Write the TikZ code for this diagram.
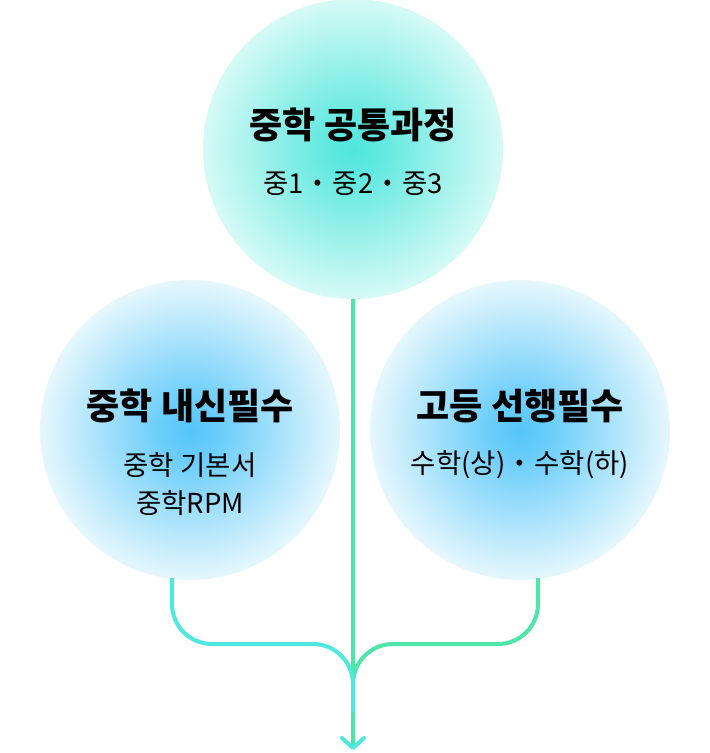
\documentclass[tikz,border=0pt]{standalone}
\usepackage{fontspec}
\setmainfont{Noto Sans CJK KR}
\usetikzlibrary{arrows,calc}
\usepackage{tkz-euclide}
\definecolor{LineGrn}{HTML}{4EE6A8}
\definecolor{LineCyn}{HTML}{4EE8E0}
\definecolor{TopIn}{HTML}{4FE6DC}
\definecolor{TopOut}{HTML}{D6FAF6}
\definecolor{SideIn}{HTML}{55C6FA}
\definecolor{SideOut}{HTML}{E6F7FD}
\pgfdeclareradialshading{TopGlow}{\pgfpointorigin}{color(0bp)=(TopIn); color(5bp)=(TopIn!85!TopOut); color(25bp)=(TopOut); color(50bp)=(TopOut)}
\pgfdeclareradialshading{SideGlow}{\pgfpointorigin}{color(0bp)=(SideIn); color(5bp)=(SideIn!85!SideOut); color(25bp)=(SideOut); color(50bp)=(SideOut)}

\begin{document}
\begin{tikzpicture}[x=1pt,y=-1pt,
  bubble/.style={circle,minimum size=300pt,inner sep=0pt},
  headtxt/.style={inner sep=0pt,font=\fontsize{36}{40}\selectfont\bfseries},
  subtxt/.style={inner sep=0pt,align=center,font=\fontsize{27.5}{37.5}\selectfont},
  grnline/.style={line width=4pt,color=LineGrn},
  cynline/.style={line width=4pt,color=LineCyn}]
\useasboundingbox (0,0) rectangle (710,753);

\tkzDefPoints{353/149/C,190/430/L,520/430/R,172/578/a,538/578/b,353/644/m,353/712/j,353/680/k,353/748/t,342/738/p,364/738/q}

% circles
\node[bubble,shading=TopGlow] (common) at (C) {};
\node[bubble,shading=SideGlow] (inner) at (L) {};
\node[bubble,shading=SideGlow] (high) at (R) {};

% texts
\node[headtxt] (commonT) at (353,125) {중학 공통과정};
\node[subtxt] (commonS) at (353,184) {중1 {\bfseries ·} 중2 {\bfseries ·} 중3};
\node[headtxt] (innerT) at (190,406) {중학 내신필수};
\node[subtxt] (innerS) at (190,484) {중학 기본서\\중학RPM};
\node[headtxt] (highT) at (520,406) {고등 선행필수};
\node[subtxt] (highS) at (520,465) {수학(상) {\bfseries ·} 수학(하)};

% connectors
\draw[grnline] (common.south) -- (t);
\draw[grnline,rounded corners=40pt] (b) |- (m) -- (k);
\draw[cynline,rounded corners=40pt] (a) |- (m) -- (j);
\draw[cynline,line cap=round,line join=round] (p) -- (t) -- (q);

\end{tikzpicture}
\end{document}
